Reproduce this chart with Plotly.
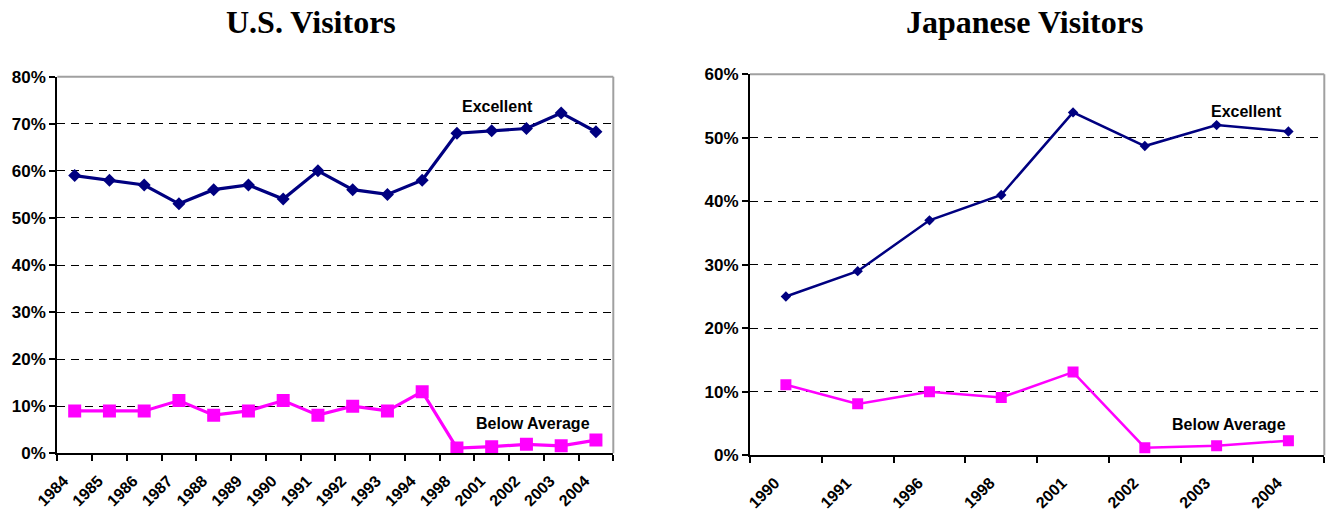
import plotly.graph_objects as go

# ---- data ----
us_years = ["1984", "1985", "1986", "1987", "1988", "1989", "1990", "1991",
            "1992", "1993", "1994", "1998", "2001", "2002", "2003", "2004"]
us_excellent = [59, 58, 57, 53, 56, 57, 54, 60, 56, 55, 58, 68, 68.5, 69, 72.3, 68.3]
us_below_avg = [9, 9, 9, 11.2, 8.1, 9, 11.2, 8.1, 10, 9, 13.1, 1.1, 1.4, 1.9, 1.6, 2.8]

jp_years = ["1990", "1991", "1996", "1998", "2001", "2002", "2003", "2004"]
jp_excellent = [25, 29, 37, 41, 54, 48.7, 52, 51]
jp_below_avg = [11.1, 8.1, 10, 9.1, 13.1, 1.2, 1.5, 2.3]

us_yticks = [0, 10, 20, 30, 40, 50, 60, 70, 80]
jp_yticks = [0, 10, 20, 30, 40, 50, 60]

NAVY = "#000080"
MAGENTA = "#FF00FF"
W, H = 1328, 515

fig = go.Figure()

# US chart
fig.add_trace(go.Scatter(x=us_years, y=us_excellent, mode="lines+markers",
                         line=dict(color=NAVY, width=3.2),
                         marker=dict(symbol="diamond", size=10, color=NAVY),
                         xaxis="x", yaxis="y", showlegend=False))
fig.add_trace(go.Scatter(x=us_years, y=us_below_avg, mode="lines+markers",
                         line=dict(color=MAGENTA, width=3.2),
                         marker=dict(symbol="square", size=13, color=MAGENTA),
                         xaxis="x", yaxis="y", showlegend=False))
# Japan chart
fig.add_trace(go.Scatter(x=jp_years, y=jp_excellent, mode="lines+markers",
                         line=dict(color=NAVY, width=2.5),
                         marker=dict(symbol="diamond", size=8, color=NAVY),
                         xaxis="x2", yaxis="y2", showlegend=False))
fig.add_trace(go.Scatter(x=jp_years, y=jp_below_avg, mode="lines+markers",
                         line=dict(color=MAGENTA, width=2.5),
                         marker=dict(symbol="square", size=11, color=MAGENTA),
                         xaxis="x2", yaxis="y2", showlegend=False))

tickfont_x = dict(family="Liberation Sans, Arial", size=16, color="black", weight="bold")
tickfont_y = dict(family="Liberation Sans, Arial", size=17, color="black", weight="bold")

def xaxis_cfg(domain, anchor, n):
    return dict(domain=domain, anchor=anchor, type="category", tickson="boundaries",
                range=[-0.5, n - 0.5],
                ticks="outside", ticklen=6, tickwidth=1.5, tickcolor="black",
                showline=True, linecolor="black", linewidth=2,
                showgrid=False, zeroline=False, tickangle=-45, tickfont=tickfont_x,
                ticklabelstandoff=10, ticklabelshift=-11,
                automargin=False, fixedrange=True)

def yaxis_cfg(domain, anchor, rng, vals):
    return dict(domain=domain, anchor=anchor, range=rng, tickvals=vals,
                ticktext=[f"{v}%" for v in vals],
                ticks="outside", ticklen=6, tickwidth=1.5, tickcolor="black",
                showline=True, linecolor="black", linewidth=2,
                showgrid=True, gridcolor="black", gridwidth=1, griddash="8px,6px",
                zeroline=False, tickfont=tickfont_y, automargin=False, fixedrange=True)

x1d = [57.3 / W, 613.3 / W]
y1d = [(H - 453.3) / H, (H - 76.7) / H]
x2d = [750 / W, 1324.3 / W]
y2d = [(H - 455.3) / H, (H - 74.3) / H]

fig.update_layout(
    width=W, height=H,
    margin=dict(l=0, r=0, t=0, b=0, autoexpand=False),
    paper_bgcolor="white", plot_bgcolor="white",
    xaxis=xaxis_cfg(x1d, "y", len(us_years)),
    yaxis=yaxis_cfg(y1d, "x", [0, 80], us_yticks),
    xaxis2=xaxis_cfg(x2d, "y2", len(jp_years)),
    yaxis2=yaxis_cfg(y2d, "x2", [0, 60], jp_yticks),
)

# gray top/right borders of plot areas
border = dict(color="#A0A0A0", width=2)
for xd, yd in [(x1d, y1d), (x2d, y2d)]:
    fig.add_shape(type="line", xref="paper", yref="paper", x0=xd[0], x1=xd[1], y0=yd[1], y1=yd[1], line=border, layer="above")
    fig.add_shape(type="line", xref="paper", yref="paper", x0=xd[1], x1=xd[1], y0=yd[0], y1=yd[1], line=border, layer="above")

title_font = dict(family="Liberation Serif, Times New Roman", size=32, color="black", weight="bold")
lab_font = dict(family="Liberation Sans, Arial", size=16, color="black", weight="bold")

def px_ann(text, x, y, font):
    fig.add_annotation(text=text, xref="paper", yref="paper", x=x / W, y=(H - y) / H,
                       xanchor="center", yanchor="middle", showarrow=False, font=font)

px_ann("U.S. Visitors", 311, 22, title_font)
px_ann("Japanese Visitors", 1024, 22, title_font)
px_ann("Excellent", 497, 106, lab_font)
px_ann("Below Average", 533, 423, lab_font)
px_ann("Excellent", 1246, 111, lab_font)
px_ann("Below Average", 1229, 424, lab_font)

fig.write_html("out.html", config={"displayModeBar": False},
               post_script="document.body.style.margin='0';document.body.style.overflow='hidden';")
